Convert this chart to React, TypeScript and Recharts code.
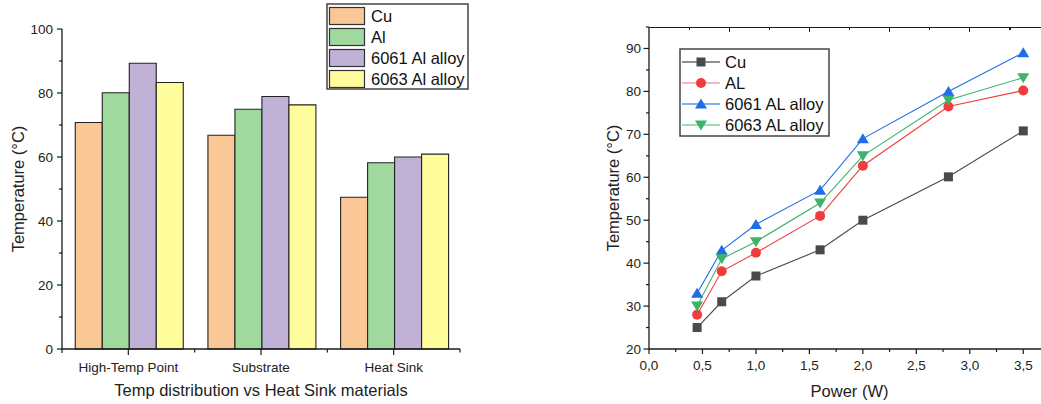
import React from 'react';
import { BarChart, Bar, XAxis, YAxis, LineChart, Line, Legend } from 'recharts';

// ---------- Bar chart data ----------
const categories = ['High-Temp Point', 'Substrate', 'Heat Sink'];
const barCu = [70.8, 66.8, 47.4];
const barAl = [80.1, 74.9, 58.2];
const bar6061 = [89.3, 78.9, 60.0];
const bar6063 = [83.3, 76.3, 60.9];
const barNames = ['Cu', 'Al', '6061 Al alloy', '6063 Al alloy'];
const barColors = ['#fac896', '#9fd99d', '#c0b1d7', '#fffc9c'];
const barYTicks = [0, 10, 20, 30, 40, 50, 60, 70, 80, 90, 100];

// ---------- Line chart data ----------
const power = [0.45, 0.68, 1.0, 1.6, 2.0, 2.8, 3.5];
const lineCu = [25, 31, 37, 43.1, 50, 60.1, 70.8];
const lineAl = [28, 38.1, 42.4, 51, 62.7, 76.5, 80.2];
const line6061 = [33, 43, 49, 57, 69, 80, 89];
const line6063 = [30, 41, 45, 54, 65, 78, 83.2];
const lineNames = ['Cu', 'AL', '6061 AL alloy', '6063 AL alloy'];
const lineColors = ['#4a4a4a', '#f03c3c', '#1e6ee6', '#3cb26a'];
const legendLineColors = ['#6a6a6a', '#f4a0a0', '#5a96ee', '#7cd0a0'];
const powerTicks = [0, 0.25, 0.5, 0.75, 1, 1.25, 1.5, 1.75, 2, 2.25, 2.5, 2.75, 3, 3.25, 3.5, 3.75];
const tempTicks = [20, 25, 30, 35, 40, 45, 50, 55, 60, 65, 70, 75, 80, 85, 90, 95];
const TOP_DIVISIONS = 10;

const barData = categories.map((c, i) => ({
  cat: c,
  cu: barCu[i],
  al: barAl[i],
  a6061: bar6061[i],
  a6063: bar6063[i],
}));
const barKeys = ['cu', 'al', 'a6061', 'a6063'];

const lineData = power.map((p, i) => ({
  power: p,
  cu: lineCu[i],
  al: lineAl[i],
  a6061: line6061[i],
  a6063: line6063[i],
}));

const FONT = '"Liberation Sans", Arial, Helvetica, sans-serif';
const AX = '#1a1a1a';
const TICK_FS = 13.5;
const TITLE_FS = 16.5;

// layout constants
const BAR_W = 480;
const H = 404;
const BAR_MARGIN = { top: 29, right: 20, left: 22, bottom: 0 };
const BAR_YW = 40;
const BAR_PLOT_W = BAR_W - BAR_MARGIN.left - BAR_YW - BAR_MARGIN.right;

const LINE_LEFT = 560;
const LINE_W = 500;
const LINE_MARGIN = { top: 27, right: 10, left: 29, bottom: 0 };
const LINE_YW = 60;
const LINE_PLOT_X = LINE_MARGIN.left + LINE_YW;
const LINE_PLOT_W = LINE_W - LINE_MARGIN.left - LINE_YW - LINE_MARGIN.right;

// ---------- ticks ----------
const BarYTick = (props: any) => {
  const { x, y, payload } = props;
  const v = payload.value;
  const major = v % 20 === 0;
  return (
    <g>
      <line x1={x} x2={x - (major ? 5 : 3)} y1={y} y2={y} stroke={AX} strokeWidth={1.2} />
      {major && (
        <text x={x - 9} y={y} textAnchor="end" dominantBaseline="central" fontSize={TICK_FS} fontFamily={FONT} fill="#222">
          {v}
        </text>
      )}
    </g>
  );
};

const BarXTick = (props: any) => {
  const { x, y, payload, index } = props;
  const half = BAR_PLOT_W / categories.length / 2;
  return (
    <g>
      <line x1={x} x2={x} y1={y} y2={y + 6} stroke={AX} strokeWidth={1.2} />
      {index === 0 && <line x1={x - half} x2={x - half} y1={y} y2={y + 4} stroke={AX} strokeWidth={1.2} />}
      <line x1={x + half} x2={x + half} y1={y} y2={y + 3.5} stroke={AX} strokeWidth={1.2} />
      <text x={x} y={y + 18} textAnchor="middle" dominantBaseline="central" fontSize={TICK_FS} fontFamily={FONT} fill="#222">
        {payload.value}
      </text>
    </g>
  );
};

const LineYTick = (props: any) => {
  const { x, y, payload } = props;
  const v = payload.value;
  const major = v % 10 === 0;
  return (
    <g>
      <line x1={x} x2={x - (major ? 5.5 : 3)} y1={y} y2={y} stroke={AX} strokeWidth={1.2} />
      {major && (
        <text x={x - 8} y={y} textAnchor="end" dominantBaseline="central" fontSize={TICK_FS} fontFamily={FONT} fill="#222">
          {v}
        </text>
      )}
    </g>
  );
};

const LineXTick = (props: any) => {
  const { x, y, payload } = props;
  const v = payload.value;
  const major = Math.abs(v * 2 - Math.round(v * 2)) < 1e-6;
  return (
    <g>
      <line x1={x} x2={x} y1={y} y2={y + (major ? 5 : 3)} stroke={AX} strokeWidth={1.2} />
      {major && (
        <text x={x} y={y + 16} textAnchor="middle" dominantBaseline="central" fontSize={TICK_FS} fontFamily={FONT} fill="#222">
          {v.toFixed(1).replace('.', ',')}
        </text>
      )}
    </g>
  );
};

// ---------- axis titles ----------
const yTitle = (offsetX: number) => (props: any) => {
  const vb = props.viewBox || {};
  const cx = (vb.x ?? 0) + (vb.width ?? 0) - offsetX;
  const cy = (vb.y ?? 0) + (vb.height ?? 0) / 2;
  return (
    <text x={cx} y={cy} transform={`rotate(-90 ${cx} ${cy})`} textAnchor="middle" dominantBaseline="central" fontSize={TITLE_FS} fontFamily={FONT} fill="#222">
      Temperature (°C)
    </text>
  );
};

const xTitle = (text: string, dy: number) => (props: any) => {
  const vb = props.viewBox || {};
  const cx = (vb.x ?? 0) + (vb.width ?? 0) / 2;
  const cy = (vb.y ?? 0) + dy;
  return (
    <text x={cx} y={cy} textAnchor="middle" dominantBaseline="central" fontSize={TITLE_FS} fontFamily={FONT} fill="#222">
      {text}
    </text>
  );
};

// ---------- top frame of the line chart (decoration, HTML) ----------
const TopFrame = () => {
  const left = LINE_LEFT + LINE_PLOT_X;
  const top = LINE_MARGIN.top - 0.5;
  const ticks = [];
  for (let i = 1; i <= TOP_DIVISIONS; i++) {
    const tx = left + (LINE_PLOT_W * i) / TOP_DIVISIONS;
    ticks.push(
      <div
        key={i}
        style={{ position: 'absolute', left: tx - 0.5, top: top, width: 1.2, height: i % 2 === 0 ? 5.5 : 3.5, background: AX }}
      />
    );
  }
  return (
    <div style={{ position: 'absolute', left: 0, top: 0, width: 1041, height: 40, pointerEvents: 'none', zIndex: 5 }}>
      <div style={{ position: 'absolute', left: left, top: top, width: LINE_PLOT_W, height: 1.3, background: AX }} />
      {ticks}
    </div>
  );
};

// ---------- markers ----------
const makeDot = (kind: number, color: string) => (p: any) => {
  const { cx, cy, key, index } = p;
  const k = key ?? `d${kind}-${index}`;
  if (cx == null || cy == null) return <g key={k} />;
  if (kind === 0) return <rect key={k} x={cx - 4.5} y={cy - 4.5} width={9} height={9} fill={color} />;
  if (kind === 1) return <circle key={k} cx={cx} cy={cy} r={5} fill={color} />;
  if (kind === 2)
    return <polygon key={k} points={`${cx},${cy - 5.5} ${cx + 6},${cy + 4.5} ${cx - 6},${cy + 4.5}`} fill={color} />;
  return <polygon key={k} points={`${cx},${cy + 5.5} ${cx + 6},${cy - 4.5} ${cx - 6},${cy - 4.5}`} fill={color} />;
};

const markerAt = (kind: number, cx: number, cy: number, color: string) => {
  if (kind === 0) return <rect x={cx - 4.5} y={cy - 4.5} width={9} height={9} fill={color} />;
  if (kind === 1) return <circle cx={cx} cy={cy} r={5} fill={color} />;
  if (kind === 2) return <polygon points={`${cx},${cy - 5.5} ${cx + 6},${cy + 4.5} ${cx - 6},${cy + 4.5}`} fill={color} />;
  return <polygon points={`${cx},${cy + 5.5} ${cx + 6},${cy - 4.5} ${cx - 6},${cy - 4.5}`} fill={color} />;
};

// ---------- legends ----------
const BarLegend = () => (
  <svg width={144} height={88} style={{ display: 'block' }}>
    <rect x={1} y={1} width={141} height={85} fill="#fff" stroke="#444" strokeWidth={1.5} />
    {barNames.map((n, i) => (
      <g key={n}>
        <rect x={3.5} y={4.5 + i * 21} width={35} height={17} fill={barColors[i]} stroke="#333" strokeWidth={1.2} />
        <text x={45} y={13 + i * 21} dominantBaseline="central" fontSize={TITLE_FS} fontFamily={FONT} fill="#111">
          {n}
        </text>
      </g>
    ))}
  </svg>
);

const LineLegend = () => (
  <svg width={152} height={90} style={{ display: 'block' }}>
    <rect x={1} y={1} width={149} height={87} fill="#fff" stroke="#444" strokeWidth={1.5} />
    {lineNames.map((n, i) => {
      const cy = 14 + i * 21;
      return (
        <g key={n}>
          <line x1={3} x2={41} y1={cy} y2={cy} stroke={legendLineColors[i]} strokeWidth={1.6} />
          {markerAt(i, 22, cy, lineColors[i])}
          <text x={46} y={cy} dominantBaseline="central" fontSize={TITLE_FS} fontFamily={FONT} fill="#111">
            {n}
          </text>
        </g>
      );
    })}
  </svg>
);

export default function App() {
  return (
    <div style={{ position: 'absolute', left: 0, top: 0, width: 1041, height: 404, overflow: 'hidden', background: '#fff' }}>
      <div style={{ position: 'absolute', left: 0, top: 0 }}>
        <BarChart width={BAR_W} height={H} data={barData} margin={BAR_MARGIN} barCategoryGap="10%" barGap={0}>
          <XAxis
            dataKey="cat"
            height={55}
            interval={0}
            tickSize={0}
            tickMargin={0}
            tick={<BarXTick />}
            axisLine={{ stroke: AX, strokeWidth: 1.3 }}
            tickLine={false}
            label={xTitle('Temp distribution vs Heat Sink materials', 41)}
          />
          <YAxis
            width={BAR_YW}
            domain={[0, 100]}
            ticks={barYTicks}
            interval={0}
            tickSize={0}
            tickMargin={0}
            tick={<BarYTick />}
            axisLine={{ stroke: AX, strokeWidth: 1.3 }}
            tickLine={false}
            label={yTitle(44.5)}
          />
          <Legend
            layout="horizontal"
            verticalAlign="middle"
            align="center"
            content={() => <BarLegend />}
            wrapperStyle={{ position: 'absolute', left: 326, top: 3, width: 144, height: 88 }}
          />
          {barKeys.map((k, i) => (
            <Bar key={k} dataKey={k} name={barNames[i]} fill={barColors[i]} stroke="#222" strokeWidth={1.1} isAnimationActive={false} />
          ))}
        </BarChart>
      </div>
      <div style={{ position: 'absolute', left: LINE_LEFT, top: 0 }}>
        <LineChart width={LINE_W} height={H} data={lineData} margin={LINE_MARGIN}>
          <XAxis
            dataKey="power"
            type="number"
            domain={[0, 3.75]}
            ticks={powerTicks}
            interval={0}
            height={55}
            tickSize={0}
            tickMargin={0}
            tick={<LineXTick />}
            tickLine={false}
            axisLine={{ stroke: AX, strokeWidth: 1.3 }}
            allowDataOverflow
            label={xTitle('Power (W)', 42)}
          />
          <YAxis
            width={LINE_YW}
            type="number"
            domain={[20, 95]}
            ticks={tempTicks}
            interval={0}
            tickSize={0}
            tickMargin={0}
            tick={<LineYTick />}
            tickLine={false}
            axisLine={{ stroke: AX, strokeWidth: 1.3 }}
            allowDataOverflow
            label={yTitle(36.5)}
          />
          <Legend
            layout="horizontal"
            verticalAlign="middle"
            align="center"
            content={() => <LineLegend />}
            wrapperStyle={{ position: 'absolute', left: 119, top: 48, width: 152, height: 90 }}
          />
          {barKeys.map((k, i) => (
            <Line
              key={k}
              dataKey={k}
              name={lineNames[i]}
              stroke={lineColors[i]}
              strokeWidth={1.1}
              dot={makeDot(i, lineColors[i])}
              activeDot={false}
              isAnimationActive={false}
            />
          ))}
        </LineChart>
      </div>
      <TopFrame />
    </div>
  );
}
